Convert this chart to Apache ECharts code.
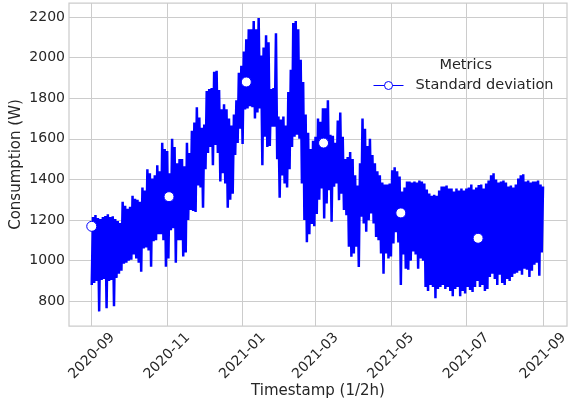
<!DOCTYPE html>
<html><head><meta charset="utf-8">
<script src="https://cdn.jsdelivr.net/npm/echarts@6/dist/echarts.min.js"></script>
<style>html,body{margin:0;padding:0;background:#fff}#c{width:569px;height:405px}</style>
</head><body><div id="c"></div>
<script>
// Half-hourly consumption, summarised as envelope (low/high) every 2 days
const startDate = '2020-09-01';
const stepDays = 2;
const highs = [
 1215,1225,1210,1205,1215,1220,1228,1215,1218,1205,1195,1185,1290,1270,1255,1265,1320,1305,1300,1290,1360,1345,1450,1430,1405,1420,1470,1440,1580,1550,
 1540,1430,1600,1560,1480,1500,1500,1465,1580,1530,1640,1680,1755,1705,1655,1670,1835,1845,1850,1930,1935,1840,1745,1770,1745,1700,1665,1720,1790,1925,1960,
 2030,2090,2140,2140,2180,2140,2195,2010,2050,2110,2075,1845,1850,2120,1710,1695,1710,1665,1830,1940,2170,2180,2140,1990,1880,1720,1630,1550,1590,1610,1700,
 1684,1750,1750,1790,1620,1615,1580,1690,1730,1610,1500,1510,1535,1500,1420,1370,1480,1700,1650,1565,1600,1520,1480,1440,1420,1385,1375,1375,1380,1445,1460,
 1440,1414,1340,1360,1390,1390,1385,1390,1385,1395,1390,1380,1350,1330,1320,1325,1320,1345,1365,1365,1370,1355,1355,1340,1355,1345,1355,1345,1355,1360,1375,
 1350,1360,1373,1375,1355,1380,1395,1420,1430,1400,1385,1390,1395,1385,1365,1370,1360,1375,1405,1420,1425,1390,1395,1385,1390,1390,1395,1375,1365
];
const lows = [
 880,890,900,750,905,910,765,900,905,775,915,935,950,985,990,1000,1005,1030,1010,990,945,1060,1065,1050,970,1095,1100,1130,1130,1100,
 970,1011,1150,1160,990,1100,1100,1020,1040,1200,1250,1245,1240,1370,1360,1260,1450,1530,1560,1470,1570,1530,1390,1430,1380,1260,1300,1330,1520,1580,1650,
 1575,1745,1750,1760,1755,1700,1730,1750,1470,1610,1560,1565,1660,1660,1500,1310,1420,1380,1360,1450,1560,1610,1620,1600,1380,1200,1090,1130,1180,1170,1230,
 1300,1355,1207,1281,1347,1191,1364,1380,1298,1330,1249,1224,1068,1019,1035,1068,969,1216,1183,1142,1199,1232,1183,1117,1101,1035,935,1035,1010,1020,1084,
 1140,1090,880,1030,960,955,1000,1045,1030,960,1010,1000,870,850,880,870,815,860,870,880,860,870,850,825,860,870,825,850,838,870,855,
 845,870,900,870,880,850,860,920,935,910,880,930,890,880,910,900,920,935,940,950,930,960,955,920,950,980,990,925,1040
];
const markerDays = [0, 62.5, 125, 187.5, 250, 312.5];
const markerValues = [1169, 1315, 1880, 1579, 1235, 1110];
const xTickLabels = ['2020-09','2020-11','2021-01','2021-03','2021-05','2021-07','2021-09'];
const yTicks = [800,1000,1200,1400,1600,1800,2000,2200];

const DAY = 86400000;
const t0 = Date.parse(startDate + 'T00:00:00Z');
const lineData = [];
for (let k = 0; k < highs.length; k++) {
  lineData.push([t0 + k * stepDays * DAY, lows[k]]);
  lineData.push([t0 + (k * stepDays + 1) * DAY, highs[k]]);
}
const markerData = markerDays.map((d, i) => [t0 + d * DAY, markerValues[i]]);
const xTickVals = xTickLabels.map(s => Date.parse(s + '-01T00:00:00Z'));

const chart = echarts.init(document.getElementById('c'), null, {renderer: 'canvas'});
const txt = '#262626', grid = '#cccccc', blue = '#0000ff';
chart.setOption({
  animation: false,
  backgroundColor: '#fff',
  textStyle: {fontFamily: 'DejaVu Sans'},
  grid: {left: 69, right: 2, top: 3, bottom: 79, containLabel: false, outerBoundsMode: 'none',
         show: true, borderColor: grid, borderWidth: 1.25},
  xAxis: {
    type: 'value', min: t0 - 18.4 * DAY, max: t0 + 384.4 * DAY, scale: true,
    name: 'Timestamp (1/2h)', nameLocation: 'middle', nameGap: 58, nameMoveOverlap: false,
    nameTextStyle: {fontSize: 15, color: txt, fontFamily: 'DejaVu Sans'},
    axisLine: {show: false},
    axisTick: {show: false, customValues: xTickVals},
    axisLabel: {customValues: xTickVals, rotate: 45, align: 'center', verticalAlign: 'middle', margin: 30,
      fontSize: 14, color: txt, fontFamily: 'DejaVu Sans', hideOverlap: false,
      formatter: v => new Date(v).toISOString().slice(0, 7)},
    splitLine: {show: true, lineStyle: {color: grid, width: 1}}
  },
  yAxis: {
    type: 'value', min: 678, max: 2269,
    name: 'Consumption (W)', nameLocation: 'middle', nameGap: 45, nameMoveOverlap: false,
    nameTextStyle: {fontSize: 15, color: txt, fontFamily: 'DejaVu Sans'},
    axisLine: {show: false},
    axisTick: {show: false, customValues: yTicks},
    axisLabel: {customValues: yTicks, fontSize: 14, color: txt, margin: 4, fontFamily: 'DejaVu Sans',
      formatter: v => String(v)},
    splitLine: {show: true, lineStyle: {color: grid, width: 1}}
  },
  legend: {
    data: ['Standard deviation'], left: 373, top: 78, padding: 0, selectedMode: false,
    itemWidth: 30, itemHeight: 10,
    textStyle: {fontSize: 14.5, color: txt, fontFamily: 'DejaVu Sans', padding: [0, 0, 0, 7]},
    itemStyle: {color: '#fff', borderColor: blue, borderWidth: 1},
    lineStyle: {color: blue, width: 1}
  },
  graphic: [{
    type: 'text', x: 465.7, y: 65, silent: true,
    style: {text: 'Metrics', align: 'center', verticalAlign: 'middle', font: '14.5px "DejaVu Sans"', fill: txt}
  }],
  series: [
    {name: 'Standard deviation', type: 'line', data: lineData, showSymbol: false, symbol: 'circle',
     lineStyle: {color: blue, width: 2.5}, itemStyle: {color: blue}, silent: true, z: 2},
    {name: 'markers', type: 'scatter', data: markerData, symbol: 'circle', symbolSize: 10,
     itemStyle: {color: '#fff', borderColor: blue, borderWidth: 1, opacity: 1}, silent: true, z: 3}
  ]
});
</script>
</body></html>
